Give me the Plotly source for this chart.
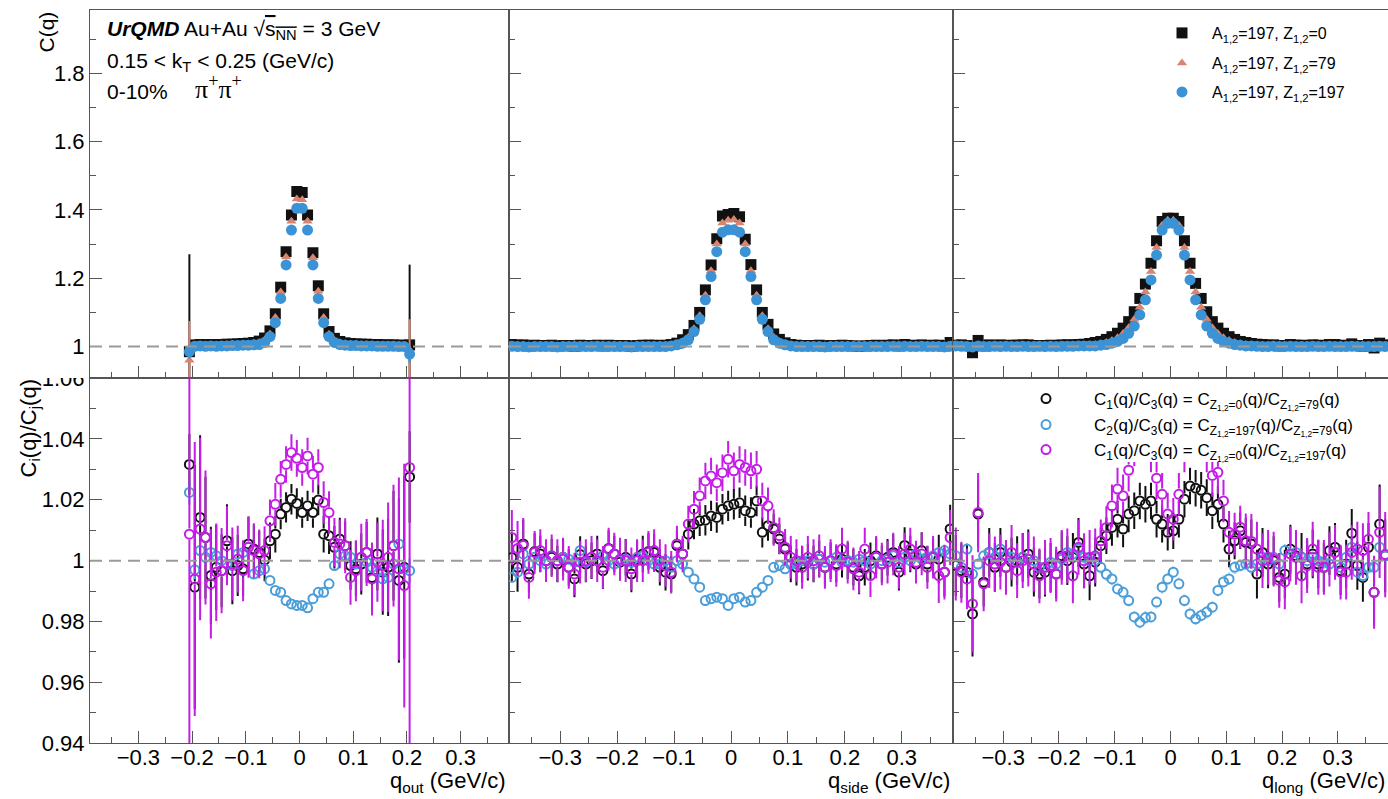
import plotly.graph_objects as go

# ---------------- data ----------------
Q_OUT = [-0.205, -0.195, -0.185, -0.175, -0.165, -0.155, -0.145, -0.135, -0.125, -0.115,
         -0.105, -0.095, -0.085, -0.075, -0.065, -0.055, -0.045, -0.035, -0.025, -0.015,
         -0.005, 0.005, 0.015, 0.025, 0.035, 0.045, 0.055, 0.065, 0.075, 0.085,
         0.095, 0.105, 0.115, 0.125, 0.135, 0.145, 0.155, 0.165, 0.175, 0.185,
         0.195, 0.205]
Q_SL = [-0.385, -0.375, -0.365, -0.355, -0.345, -0.335, -0.325, -0.315, -0.305, -0.295,
        -0.285, -0.275, -0.265, -0.255, -0.245, -0.235, -0.225, -0.215, -0.205, -0.195,
        -0.185, -0.175, -0.165, -0.155, -0.145, -0.135, -0.125, -0.115, -0.105, -0.095,
        -0.085, -0.075, -0.065, -0.055, -0.045, -0.035, -0.025, -0.015, -0.005, 0.005,
        0.015, 0.025, 0.035, 0.045, 0.055, 0.065, 0.075, 0.085, 0.095, 0.105,
        0.115, 0.125, 0.135, 0.145, 0.155, 0.165, 0.175, 0.185, 0.195, 0.205,
        0.215, 0.225, 0.235, 0.245, 0.255, 0.265, 0.275, 0.285, 0.295, 0.305,
        0.315, 0.325, 0.335, 0.345, 0.355, 0.365, 0.375, 0.385]

# top row: C(q) for Z=0 (C1), Z=79 (C2), Z=197 (C3)
C1_OUT = [0.985, 1.005, 1.006, 1.005, 1.006, 1.005, 1.006, 1.007, 1.007, 1.008,
          1.009, 1.010, 1.012, 1.016, 1.025, 1.046, 1.096, 1.174, 1.278, 1.385,
          1.454, 1.451, 1.385, 1.275, 1.178, 1.096, 1.044, 1.024, 1.015, 1.011,
          1.009, 1.008, 1.007, 1.007, 1.006, 1.006, 1.005, 1.005, 1.005, 1.004,
          1.004, 1.005]
C2_OUT = [0.960, 1.003, 1.004, 1.003, 1.004, 1.003, 1.004, 1.005, 1.005, 1.006,
          1.006, 1.007, 1.009, 1.012, 1.019, 1.037, 1.085, 1.160, 1.262, 1.367,
          1.432, 1.430, 1.367, 1.260, 1.162, 1.085, 1.036, 1.018, 1.011, 1.008,
          1.007, 1.006, 1.005, 1.005, 1.004, 1.004, 1.004, 1.003, 1.003, 1.003,
          1.002, 0.990]
C3_OUT = [0.985, 1.001, 1.002, 1.001, 1.002, 1.001, 1.002, 1.002, 1.003, 1.003,
          1.004, 1.004, 1.005, 1.006, 1.012, 1.029, 1.070, 1.141, 1.239, 1.341,
          1.405, 1.405, 1.341, 1.239, 1.141, 1.070, 1.029, 1.012, 1.006, 1.004,
          1.003, 1.003, 1.002, 1.002, 1.002, 1.001, 1.001, 1.001, 1.001, 1.000,
          1.000, 0.978]
ET1_OUT = [0.285] + [0.0] * 40 + [0.235]
ET2_OUT = [0.115] + [0.0] * 40 + [0.090]
ET3_OUT = [0.020] + [0.0] * 40 + [0.025]

C1_SIDE = [1.006, 1.004, 1.005, 1.002, 1.004, 1.003, 1.003, 1.004, 1.002, 1.003,
           1.003, 1.001, 1.004, 1.003, 1.003, 1.004, 1.002, 1.004, 1.003, 1.003,
           1.003, 1.001, 1.003, 1.004, 1.004, 1.004, 1.003, 1.004, 1.006, 1.010,
           1.020, 1.035, 1.062, 1.100, 1.166, 1.239, 1.316, 1.382, 1.387, 1.390,
           1.380, 1.314, 1.240, 1.166, 1.100, 1.065, 1.037, 1.021, 1.011, 1.006,
           1.004, 1.003, 1.003, 1.003, 1.004, 1.002, 1.003, 1.003, 1.004, 1.003,
           1.002, 1.001, 1.002, 1.003, 1.004, 1.003, 1.004, 1.005, 1.002, 1.006,
           1.004, 1.003, 1.005, 1.003, 1.004, 1.004, 1.002, 1.012]
C2_SIDE = [1.002, 1.001, 1.002, 1.000, 1.001, 1.001, 1.000, 1.001, 1.000, 1.001,
           1.001, 1.000, 1.002, 1.001, 1.001, 1.002, 1.000, 1.001, 1.001, 1.001,
           1.001, 1.000, 1.001, 1.001, 1.002, 1.001, 1.001, 1.002, 1.003, 1.007,
           1.014, 1.027, 1.052, 1.090, 1.150, 1.222, 1.300, 1.362, 1.370, 1.372,
           1.362, 1.300, 1.222, 1.150, 1.090, 1.052, 1.027, 1.014, 1.007, 1.003,
           1.001, 1.001, 1.001, 1.001, 1.002, 1.000, 1.001, 1.001, 1.002, 1.001,
           1.000, 1.000, 1.001, 1.001, 1.002, 1.001, 1.001, 1.002, 1.000, 1.002,
           1.001, 1.001, 1.002, 1.001, 1.001, 1.002, 1.001, 1.003]
C3_SIDE = [1.001, 1.000, 1.000, 0.999, 1.000, 1.000, 1.000, 1.000, 0.999, 1.000,
           1.000, 1.000, 1.000, 1.000, 1.000, 1.001, 1.000, 1.000, 1.000, 1.000,
           1.000, 0.999, 1.000, 1.000, 1.000, 1.000, 1.000, 1.000, 1.002, 1.005,
           1.010, 1.020, 1.044, 1.080, 1.137, 1.205, 1.278, 1.335, 1.342, 1.342,
           1.335, 1.278, 1.205, 1.137, 1.080, 1.044, 1.020, 1.010, 1.005, 1.002,
           1.000, 1.000, 1.000, 1.000, 1.000, 0.999, 1.000, 1.000, 1.000, 1.000,
           1.000, 1.000, 1.000, 1.000, 1.000, 1.000, 1.000, 1.001, 1.000, 1.001,
           1.000, 1.000, 1.001, 1.000, 1.000, 1.000, 0.999, 1.001]

C1_LONG = [1.004, 1.005, 1.003, 0.982, 1.018, 1.002, 1.005, 1.003, 1.005, 1.003,
           1.004, 1.004, 1.005, 1.005, 1.003, 1.003, 1.003, 1.004, 1.003, 1.005,
           1.005, 1.005, 1.006, 1.007, 1.009, 1.012, 1.015, 1.021, 1.029, 1.039,
           1.054, 1.073, 1.102, 1.141, 1.183, 1.244, 1.310, 1.366, 1.376, 1.376,
           1.366, 1.310, 1.244, 1.185, 1.141, 1.102, 1.073, 1.054, 1.039, 1.029,
           1.021, 1.015, 1.012, 1.009, 1.007, 1.006, 1.004, 1.005, 1.002, 1.003,
           1.006, 1.004, 1.004, 1.003, 1.005, 1.004, 1.003, 1.006, 1.006, 1.003,
           1.004, 1.008, 1.003, 1.001, 1.006, 0.996, 1.010, 1.005]
C2_LONG = [1.002, 1.002, 1.001, 0.999, 1.003, 1.001, 1.002, 1.002, 1.003, 1.002,
           1.002, 1.002, 1.003, 1.002, 1.001, 1.002, 1.002, 1.002, 1.001, 1.002,
           1.002, 1.002, 1.003, 1.003, 1.004, 1.005, 1.008, 1.012, 1.018, 1.026,
           1.038, 1.055, 1.080, 1.115, 1.160, 1.220, 1.290, 1.355, 1.370, 1.370,
           1.355, 1.290, 1.220, 1.160, 1.115, 1.080, 1.055, 1.038, 1.026, 1.018,
           1.012, 1.008, 1.005, 1.004, 1.003, 1.003, 1.002, 1.002, 1.001, 1.002,
           1.002, 1.002, 1.003, 1.002, 1.002, 1.002, 1.001, 1.002, 1.002, 1.002,
           1.002, 1.003, 1.002, 1.001, 1.002, 1.001, 1.002, 1.002]
C3_LONG = [1.002, 1.001, 1.000, 0.999, 1.002, 1.000, 1.000, 1.001, 1.000, 1.001,
           1.000, 1.000, 1.001, 1.000, 1.000, 1.001, 1.000, 1.001, 1.000, 1.001,
           1.001, 1.001, 1.002, 1.002, 1.002, 1.002, 1.004, 1.006, 1.010, 1.015,
           1.024, 1.039, 1.060, 1.093, 1.137, 1.195, 1.268, 1.341, 1.361, 1.361,
           1.341, 1.268, 1.195, 1.137, 1.093, 1.060, 1.039, 1.024, 1.015, 1.010,
           1.006, 1.004, 1.002, 1.002, 1.001, 1.000, 1.000, 1.001, 1.000, 1.000,
           1.001, 1.000, 1.000, 1.000, 1.001, 1.000, 1.000, 1.001, 1.000, 1.000,
           1.000, 1.001, 1.000, 1.000, 1.000, 1.000, 1.001, 1.000]

# bottom row: ratios  R1 = C1/C3 (black), R2 = C2/C3 (blue), R3 = C1/C3 (magenta)
R1_OUT = [1.0316, 0.9913, 1.0142, 1.0076, 0.9951, 0.9978, 0.9967, 1.0065, 0.9967, 0.9984,
          0.9973, 1.0055, 1.0038, 1.0027, 1.0002, 1.0065, 1.0087, 1.0153, 1.0175, 1.0202,
          1.0188, 1.0158, 1.0180, 1.0158, 1.0199, 1.0087, 1.0082, 1.0044, 1.0071, 1.0049,
          0.9984, 0.9973, 0.9989, 1.0027, 0.9945, 1.0022, 0.9962, 0.9978, 1.0049, 0.9935,
          0.9978, 1.0275]
R2_OUT = [1.0224, 0.9970, 1.0033, 1.0011, 1.0027, 1.0016, 1.0000, 0.9989, 0.9984, 1.0022,
          1.0027, 1.0044, 0.9956, 0.9967, 0.9973, 0.9935, 0.9902, 0.9896, 0.9869, 0.9858,
          0.9853, 0.9853, 0.9845, 0.9875, 0.9896, 0.9896, 0.9924, 0.9984, 1.0022, 1.0016,
          1.0011, 0.9989, 1.0011, 0.9995, 0.9978, 0.9967, 0.9940, 0.9945, 0.9989, 1.0055,
          0.9973, 0.9967]
R3_OUT = [1.0087, 0.9940, 1.0104, 1.0076, 0.9924, 0.9962, 0.9967, 1.0049, 0.9989, 1.0005,
          0.9967, 1.0044, 1.0033, 1.0022, 1.0033, 1.0131, 1.0185, 1.0267, 1.0316, 1.0355,
          1.0336, 1.0306, 1.0344, 1.0284, 1.0306, 1.0191, 1.0158, 1.0060, 1.0055, 1.0049,
          0.9945, 0.9967, 1.0011, 1.0027, 0.9940, 0.9995, 0.9984, 1.0011, 1.0049, 0.9973,
          0.9918, 1.0306]
E1_OUT = [0.010, 0.040, 0.027, 0.020, 0.016, 0.014, 0.012, 0.012, 0.011, 0.010,
          0.009, 0.009, 0.008, 0.007, 0.007, 0.006, 0.006, 0.005, 0.005, 0.005,
          0.005, 0.005, 0.005, 0.005, 0.005, 0.006, 0.006, 0.007, 0.007, 0.008,
          0.008, 0.009, 0.010, 0.010, 0.011, 0.012, 0.014, 0.016, 0.018, 0.027,
          0.030, 0.015]
E2_OUT = [0.004, 0.003, 0.003] + [0.0015] * 36 + [0.003, 0.003, 0.004]
E3_OUT = [0.200, 0.045, 0.030, 0.022, 0.018, 0.016, 0.014, 0.013, 0.012, 0.011,
          0.010, 0.010, 0.009, 0.008, 0.008, 0.007, 0.007, 0.006, 0.006, 0.006,
          0.006, 0.006, 0.006, 0.006, 0.006, 0.007, 0.007, 0.008, 0.008, 0.009,
          0.009, 0.010, 0.011, 0.011, 0.012, 0.013, 0.015, 0.018, 0.020, 0.030,
          0.040, 0.200]

R1_SIDE = [1.0010, 0.9978, 1.0055, 0.9956, 1.0030, 1.0022, 1.0000, 1.0011, 0.9989, 1.0011,
           0.9978, 0.9940, 1.0020, 0.9989, 1.0000, 1.0022, 0.9967, 1.0040, 1.0022, 0.9995,
           1.0011, 0.9956, 1.0005, 1.0022, 1.0030, 1.0027, 0.9978, 0.9962, 0.9956, 1.0049,
           1.0022, 1.0087, 1.0120, 1.0131, 1.0133, 1.0147, 1.0142, 1.0169, 1.0180, 1.0185,
           1.0190, 1.0164, 1.0158, 1.0196, 1.0093, 1.0115, 1.0104, 1.0071, 1.0038, 0.9989,
           0.9978, 0.9989, 0.9995, 0.9989, 1.0005, 0.9978, 1.0000, 0.9989, 1.0005, 1.0000,
           0.9978, 0.9950, 0.9978, 1.0000, 1.0016, 0.9989, 1.0011, 1.0027, 0.9962, 1.0050,
           1.0022, 0.9989, 1.0033, 0.9989, 1.0011, 1.0005, 0.9962, 1.0104]
R2_SIDE = [0.9945, 0.9962, 1.0022, 0.9989, 1.0011, 1.0000, 0.9989, 1.0016, 1.0000, 1.0011,
           1.0005, 0.9995, 1.0033, 0.9995, 1.0011, 1.0000, 1.0016, 1.0000, 0.9989, 1.0000,
           1.0005, 0.9995, 1.0011, 1.0016, 1.0000, 0.9989, 0.9989, 1.0000, 0.9978, 1.0000,
           0.9989, 0.9962, 0.9940, 0.9913, 0.9869, 0.9875, 0.9880, 0.9875, 0.9853, 0.9875,
           0.9880, 0.9864, 0.9869, 0.9896, 0.9913, 0.9935, 0.9978, 0.9984, 0.9973, 0.9989,
           0.9989, 1.0000, 1.0000, 0.9989, 1.0005, 0.9995, 1.0000, 1.0011, 0.9995, 1.0000,
           0.9995, 1.0005, 1.0000, 0.9989, 1.0011, 1.0000, 1.0005, 1.0016, 0.9995, 1.0011,
           1.0000, 1.0022, 1.0005, 1.0011, 1.0016, 1.0027, 1.0033, 1.0022]
R3_SIDE = [1.0076, 1.0040, 1.0050, 0.9945, 1.0027, 1.0033, 1.0000, 1.0016, 1.0000, 1.0005,
           0.9978, 0.9956, 0.9995, 1.0000, 1.0011, 1.0000, 0.9978, 1.0038, 1.0022, 1.0005,
           1.0000, 0.9973, 1.0000, 1.0000, 1.0027, 1.0033, 1.0000, 0.9984, 0.9962, 1.0055,
           1.0022, 1.0120, 1.0169, 1.0213, 1.0262, 1.0278, 1.0256, 1.0289, 1.0333, 1.0295,
           1.0316, 1.0306, 1.0295, 1.0300, 1.0196, 1.0180, 1.0109, 1.0082, 1.0044, 1.0011,
           1.0000, 0.9978, 1.0011, 1.0000, 1.0016, 0.9978, 1.0000, 0.9984, 1.0038, 0.9995,
           0.9973, 0.9962, 1.0038, 0.9951, 1.0011, 0.9989, 0.9995, 1.0022, 0.9978, 1.0022,
           1.0038, 0.9995, 1.0022, 0.9978, 1.0011, 0.9951, 0.9962, 1.0076]
E1_SIDE = [0.008] * 3 + [0.006] * 26 + [0.005] * 20 + [0.006] * 26 + [0.008] * 3
E2_SIDE = [0.0015] * 78
E3_SIDE = [0.009] * 3 + [0.007] * 26 + [0.006] * 20 + [0.007] * 26 + [0.009] * 3

R1_LONG = [0.9984, 0.9967, 0.9962, 0.9825, 1.0153, 0.9929, 1.0027, 0.9978, 1.0027, 0.9978,
           0.9995, 1.0000, 1.0011, 1.0022, 0.9962, 0.9956, 0.9962, 0.9978, 0.9956, 1.0016,
           1.0000, 1.0011, 1.0060, 0.9989, 0.9950, 0.9995, 1.0049, 1.0082, 1.0109, 1.0136,
           1.0104, 1.0153, 1.0164, 1.0196, 1.0185, 1.0196, 1.0136, 1.0120, 1.0093, 1.0098,
           1.0136, 1.0202, 1.0245, 1.0238, 1.0231, 1.0207, 1.0164, 1.0185, 1.0120, 1.0038,
           1.0065, 1.0098, 1.0060, 1.0055, 0.9956, 1.0027, 0.9989, 1.0000, 0.9945, 0.9956,
           1.0038, 1.0016, 1.0011, 0.9989, 1.0022, 0.9989, 0.9978, 1.0033, 1.0044, 0.9967,
           0.9989, 1.0090, 0.9984, 0.9945, 1.0044, 0.9896, 1.0120, 1.0016]
R2_LONG = [1.0016, 0.9978, 1.0038, 0.9956, 0.9989, 1.0016, 1.0027, 1.0011, 1.0038, 1.0016,
           1.0011, 0.9995, 1.0011, 1.0005, 1.0000, 0.9978, 0.9978, 0.9995, 0.9989, 1.0005,
           1.0027, 1.0022, 1.0038, 1.0011, 1.0000, 1.0011, 0.9978, 0.9955, 0.9940, 0.9907,
           0.9896, 0.9869, 0.9815, 0.9798, 0.9813, 0.9815, 0.9864, 0.9913, 0.9940, 0.9962,
           0.9924, 0.9869, 0.9825, 0.9809, 0.9820, 0.9831, 0.9847, 0.9902, 0.9930, 0.9940,
           0.9978, 0.9984, 0.9989, 0.9978, 0.9989, 1.0011, 1.0000, 1.0011, 0.9989, 1.0033,
           1.0022, 1.0027, 1.0011, 1.0000, 1.0011, 1.0000, 0.9995, 0.9989, 1.0027, 0.9978,
           1.0011, 1.0044, 0.9962, 0.9951, 0.9978, 0.9978, 1.0044, 1.0016]
R3_LONG = [0.9989, 0.9962, 0.9940, 0.9858, 1.0158, 0.9924, 1.0000, 0.9989, 0.9995, 0.9978,
           1.0027, 0.9967, 1.0000, 1.0005, 0.9989, 0.9950, 0.9978, 0.9984, 0.9956, 1.0011,
           1.0016, 0.9950, 1.0044, 1.0000, 1.0011, 1.0016, 1.0065, 1.0109, 1.0180, 1.0235,
           1.0213, 1.0297, 1.0380, 1.0420, 1.0400, 1.0360, 1.0271, 1.0218, 1.0153, 1.0136,
           1.0218, 1.0360, 1.0420, 1.0450, 1.0410, 1.0360, 1.0280, 1.0290, 1.0196, 1.0093,
           1.0087, 1.0110, 1.0065, 1.0063, 1.0038, 1.0000, 1.0011, 1.0005, 0.9935, 0.9930,
           1.0022, 1.0011, 0.9950, 0.9984, 1.0038, 0.9978, 0.9978, 1.0005, 1.0027, 0.9962,
           0.9962, 1.0027, 1.0038, 1.0033, 1.0070, 0.9896, 1.0093, 1.0020]
E1_LONG = [0.010, 0.009, 0.009, 0.014, 0.011] + [0.008] * 21 + [0.006] * 26 + [0.008] * 23 + [0.011, 0.013, 0.012]
E2_LONG = [0.002] * 78
E3_LONG = [0.012, 0.010, 0.010, 0.016, 0.013] + [0.009] * 21 + [0.007] * 26 + [0.009] * 23 + [0.012, 0.015, 0.014]

TOP_NAMES = ["A<sub>1,2</sub>=197, Z<sub>1,2</sub>=0",
             "A<sub>1,2</sub>=197, Z<sub>1,2</sub>=79",
             "A<sub>1,2</sub>=197, Z<sub>1,2</sub>=197"]
BOT_NAMES = ["C<sub>1</sub>(q)/C<sub>3</sub>(q) = C<sub>Z<sub>1,2</sub>=0</sub>(q)/C<sub>Z<sub>1,2</sub>=79</sub>(q)",
             "C<sub>2</sub>(q)/C<sub>3</sub>(q) = C<sub>Z<sub>1,2</sub>=197</sub>(q)/C<sub>Z<sub>1,2</sub>=79</sub>(q)",
             "C<sub>1</sub>(q)/C<sub>3</sub>(q) = C<sub>Z<sub>1,2</sub>=0</sub>(q)/C<sub>Z<sub>1,2</sub>=197</sub>(q)"]
X_TITLES = ["q<sub>out</sub> (GeV/c)", "q<sub>side</sub> (GeV/c)", "q<sub>long</sub> (GeV/c)"]

# ---------------- style / layout ----------------
W, H = 1388, 799
FONT = "Liberation Sans, Arial, Helvetica, sans-serif"
FRAME = "#555555"
BLACK = "#111111"
SALMON = "#d9846f"
BLUE = "#3b93d6"
BLUE_O = "#4a9dd8"
MAGENTA = "#c41de6"
DASH = "#9a9a9a"

XDOM = [(90 / W, 509 / W), (509 / W, 953 / W), (953 / W, 1.0)]
YDOM_TOP = (1 - 378 / H, 1 - 9.5 / H)
YDOM_BOT = (1 - 743.3 / H, 1 - 378 / H)
YR_TOP = [0.908, 1.987]
YR_BOT = [0.94, 1.06]
OPEN_SIZE = 9
# half of the open-marker outer diameter, expressed in bottom-axis data units,
# so that error bars stop at the marker edge (ROOT style)
GAP_BOT = (OPEN_SIZE / 2 + 1.2) * (YR_BOT[1] - YR_BOT[0]) / ((YDOM_BOT[1] - YDOM_BOT[0]) * H)

TOP_LEG = ["legend", "legend3", "legend4"]
BOT_LEG = ["legend2", "legend5", "legend6"]
TOP_LEG_Y = [33, 63, 92]      # px rows of the top legend
BOT_LEG_Y = [399, 425, 450]   # px rows of the bottom legend

fig = go.Figure()

top_sets = [
    (Q_OUT, [C1_OUT, C2_OUT, C3_OUT], [ET1_OUT, ET2_OUT, ET3_OUT]),
    (Q_SL, [C1_SIDE, C2_SIDE, C3_SIDE], [None, None, None]),
    (Q_SL, [C1_LONG, C2_LONG, C3_LONG], [None, None, None]),
]
top_marks = [dict(symbol="square", size=11, color=BLACK),
             dict(symbol="triangle-up", size=9, color=SALMON),
             dict(symbol="circle", size=11, color=BLUE)]

bot_sets = [
    (Q_OUT, [R1_OUT, R2_OUT, R3_OUT], [E1_OUT, E2_OUT, E3_OUT]),
    (Q_SL, [R1_SIDE, R2_SIDE, R3_SIDE], [E1_SIDE, E2_SIDE, E3_SIDE]),
    (Q_SL, [R1_LONG, R2_LONG, R3_LONG], [E1_LONG, E2_LONG, E3_LONG]),
]
bot_cols = [BLACK, BLUE_O, MAGENTA]


def axname(i):
    return "" if i == 1 else str(i)


def bar_segments(xs, ys, es, gap):
    bx, by = [], []
    for xv, yv, ev in zip(xs, ys, es):
        if ev > gap:
            bx += [xv, xv, None, xv, xv, None]
            by += [yv + gap, yv + ev, None, yv - gap, yv - ev, None]
    return bx, by


for p, (x, ys, es) in enumerate(top_sets):
    a = axname(p + 1)
    for s in range(3):
        m = top_marks[s]
        err = (dict(type="data", array=es[s], visible=True, thickness=2, width=0, color=m["color"])
               if es[s] is not None else dict(visible=False))
        fig.add_trace(go.Scatter(
            x=x, y=ys[s], mode="markers",
            marker=dict(symbol=m["symbol"], size=m["size"], color=m["color"], line=dict(width=0)),
            error_y=err, xaxis="x" + a, yaxis="y" + a,
            name=TOP_NAMES[s], legend=TOP_LEG[s],
            showlegend=(p == 2), hoverinfo="skip"))

for p, (x, ys, es) in enumerate(bot_sets):
    a = axname(p + 4)
    for s in range(3):
        c = bot_cols[s]
        bx, by = bar_segments(x, ys[s], es[s], GAP_BOT)
        if bx:
            fig.add_trace(go.Scatter(
                x=bx, y=by, mode="lines", line=dict(color=c, width=2),
                xaxis="x" + a, yaxis="y" + a, showlegend=False, hoverinfo="skip",
                legend=BOT_LEG[s]))
        fig.add_trace(go.Scatter(
            x=x, y=ys[s], mode="markers",
            marker=dict(symbol="circle-open", size=OPEN_SIZE, color=c, line=dict(width=2, color=c)),
            xaxis="x" + a, yaxis="y" + a,
            name=BOT_NAMES[s], legend=BOT_LEG[s],
            showlegend=(p == 2), hoverinfo="skip"))

tickfont = dict(family=FONT, size=22, color="black")
layout = dict(
    width=W, height=H, margin=dict(l=0, r=0, t=0, b=0, autoexpand=False),
    paper_bgcolor="white", plot_bgcolor="white",
    font=dict(family=FONT, color="black"),
    showlegend=True,
)

for i in range(1, 7):
    a = axname(i)
    col = (i - 1) % 3
    top = i <= 3
    xa = dict(domain=list(XDOM[col]), range=[-0.39, 0.39], anchor="y" + a, automargin=False,
              dtick=0.1, tick0=0, ticks="inside", ticklen=12, tickwidth=1, tickcolor=FRAME,
              showline=True, linecolor=FRAME, linewidth=1, mirror=True,
              showgrid=False, zeroline=False, showticklabels=not top, tickfont=tickfont,
              ticklabelstandoff=-6,
              minor=dict(ticks="inside", ticklen=6, dtick=0.05, tick0=0, tickcolor=FRAME, showgrid=False))
    if top:
        ya = dict(domain=list(YDOM_TOP), range=YR_TOP, dtick=0.2, tick0=1.0,
                  minor=dict(ticks="inside", ticklen=6, dtick=0.1, tick0=1.0, tickcolor=FRAME, showgrid=False))
    else:
        ya = dict(domain=list(YDOM_BOT), range=YR_BOT, dtick=0.02, tick0=1.0,
                  minor=dict(ticks="inside", ticklen=6, dtick=0.01, tick0=1.0, tickcolor=FRAME, showgrid=False))
    ya.update(anchor="x" + a, automargin=False, ticks="inside", ticklen=12, tickwidth=1, tickcolor=FRAME,
              showline=True, linecolor=FRAME, linewidth=1, mirror=True,
              showgrid=False, zeroline=False, showticklabels=(col == 0), tickfont=tickfont)
    layout["xaxis" + a] = xa
    layout["yaxis" + a] = ya

for s in range(3):
    layout[TOP_LEG[s]] = dict(x=1152 / W, y=1 - TOP_LEG_Y[s] / H, xanchor="left", yanchor="middle",
                              bgcolor="rgba(0,0,0,0)", borderwidth=0, itemwidth=50,
                              font=dict(family=FONT, size=16, color="black"))
    layout[BOT_LEG[s]] = dict(x=998 / W, y=1 - BOT_LEG_Y[s] / H, xanchor="left", yanchor="middle",
                              bgcolor="rgba(0,0,0,0)", borderwidth=0, itemwidth=86,
                              font=dict(family=FONT, size=17, color="black"))

shapes = []
for i in range(1, 7):
    a = axname(i)
    shapes.append(dict(type="line", xref="x%s domain" % a, x0=0, x1=1, yref="y" + a, y0=1, y1=1,
                       line=dict(color=DASH, width=2, dash="12px,7px"), layer="above"))
# top pad hides upper half of the last bottom-axis label (as in the original canvas)
shapes.append(dict(type="rect", xref="paper", yref="paper", x0=0, x1=88 / W,
                   y0=1 - 378 / H, y1=1 - 358 / H, fillcolor="white", line=dict(width=0), layer="above"))
# opaque box of the lower legend (covers the points behind it, as in the original)
shapes.append(dict(type="rect", xref="paper", yref="paper", x0=1030 / W, x1=1386 / W,
                   y0=1 - 462 / H, y1=1 - 383 / H, fillcolor="white", line=dict(width=0), layer="above"))
layout["shapes"] = shapes

ann = []
ann.append(dict(text="<b><i>UrQMD</i></b> Au+Au √<span style=\"text-decoration:overline\">s<sub>NN</sub></span> = 3 GeV",
                x=105 / W, y=1 - 30 / H,
                xref="paper", yref="paper", xanchor="left", yanchor="middle", showarrow=False,
                font=dict(family=FONT, size=21)))
ann.append(dict(text="0.15 &lt; k<sub>T</sub> &lt; 0.25 (GeV/c)", x=105 / W, y=1 - 62 / H,
                xref="paper", yref="paper", xanchor="left", yanchor="middle", showarrow=False,
                font=dict(family=FONT, size=21)))
ann.append(dict(text="0-10%", x=105 / W, y=1 - 91 / H,
                xref="paper", yref="paper", xanchor="left", yanchor="middle", showarrow=False,
                font=dict(family=FONT, size=21)))
ann.append(dict(text="π<sup>+</sup>π<sup>+</sup>", x=193 / W, y=1 - 87 / H,
                xref="paper", yref="paper", xanchor="left", yanchor="middle", showarrow=False,
                font=dict(family="Liberation Serif, DejaVu Serif, serif", size=26)))
ann.append(dict(text="C(q)", textangle=-90, x=46 / W, y=1 - 10 / H,
                xref="paper", yref="paper", xanchor="center", yanchor="top", showarrow=False,
                font=dict(family=FONT, size=21)))
ann.append(dict(text="C<sub>i</sub>(q)/C<sub>j</sub>(q)", textangle=-90, x=30 / W, y=1 - 377 / H,
                xref="paper", yref="paper", xanchor="center", yanchor="top", showarrow=False,
                font=dict(family=FONT, size=22)))
for col, t in enumerate(X_TITLES):
    ann.append(dict(text=t, x=XDOM[col][1] - 1 / W, y=1 - 782 / H,
                    xref="paper", yref="paper", xanchor="right", yanchor="middle", showarrow=False,
                    font=dict(family=FONT, size=22)))
layout["annotations"] = ann

fig.update_layout(**layout)
fig.write_html("out.html")
